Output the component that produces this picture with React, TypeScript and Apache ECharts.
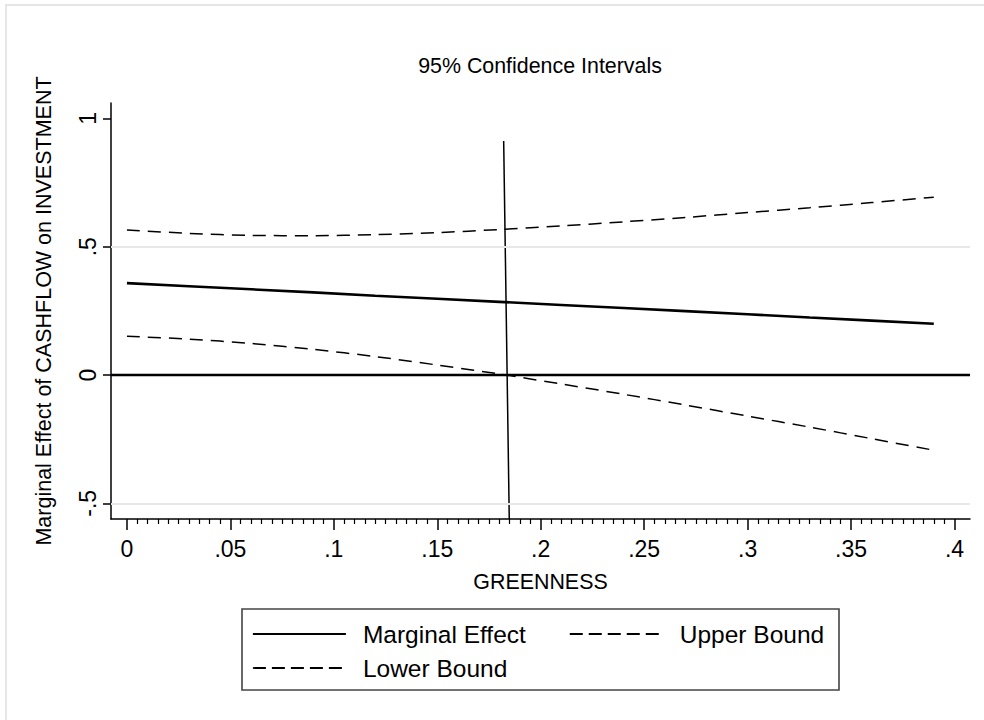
import React, { useEffect, useRef } from "react";
import * as echarts from "echarts";

const greenness = [0, 0.03, 0.06, 0.09, 0.12, 0.15, 0.18, 0.21, 0.24, 0.27, 0.3, 0.33, 0.36, 0.39];
const marginalEffect = [0.358, 0.346, 0.334, 0.322, 0.309, 0.297, 0.285, 0.273, 0.261, 0.249, 0.237, 0.224, 0.212, 0.2];
const upperBound = [0.565, 0.552, 0.544, 0.543, 0.547, 0.555, 0.567, 0.581, 0.597, 0.614, 0.633, 0.652, 0.672, 0.693];
const lowerBound = [0.151, 0.14, 0.123, 0.1, 0.072, 0.039, 0.004, -0.035, -0.075, -0.117, -0.16, -0.203, -0.248, -0.293];
const cutoffX = [0.1821, 0.1848];
const cutoffY = [0.912, -0.561];

const xMajorTicks = [0, 0.05, 0.1, 0.15, 0.2, 0.25, 0.3, 0.35, 0.4];
const xTickLabels = ["0", ".05", ".1", ".15", ".2", ".25", ".3", ".35", ".4"];
const yMajorTicks = [-0.5, 0, 0.5, 1];
const yTickLabels = ["-.5", "0", ".5", "1"];
const yGridLines = [-0.5, 0.5];

const FONT = "'Liberation Sans', Arial, Helvetica, sans-serif";

export default function App() {
  const ref = useRef<HTMLDivElement>(null);
  useEffect(() => {
    if (!ref.current) return;
    const chart = echarts.init(ref.current, undefined, { renderer: "svg" });
    const xMin = -0.0077;
    const xMax = 0.4075;
    const minor: number[] = [];
    for (let i = 0; i <= 80; i++) {
      if (i % 10 !== 0) minor.push(+(i * 0.005).toFixed(4));
    }
    const xLab = (v: number) => {
      const idx = xMajorTicks.findIndex((t) => Math.abs(t - v) < 1e-9);
      return idx >= 0 ? xTickLabels[idx] : "";
    };
    const yLab = (v: number) => {
      const idx = yMajorTicks.findIndex((t) => Math.abs(t - v) < 1e-9);
      return idx >= 0 ? yTickLabels[idx] : "";
    };
    const dash = [13, 8];
    const legendText = { fontSize: 24.5, color: "#000", fontFamily: FONT, padding: [0, 0, 0, 12], lineHeight: 28 };
    const legendLine = { width: 1.8, type: [13, 6], color: "#000" };
    chart.setOption({
      animation: false,
      backgroundColor: "#ffffff",
      textStyle: { fontFamily: FONT },
      grid: { left: 111, right: 14, top: 103, bottom: 201, containLabel: false },
      graphic: [
        {
          type: "rect",
          shape: { x: 6, y: 5, width: 1100, height: 1000 },
          style: { fill: "none", stroke: "#e6e6e6", lineWidth: 2 },
          silent: true,
          z: -10,
        },
        {
          type: "text",
          x: 540,
          y: 66,
          style: {
            text: "95% Confidence Intervals",
            fill: "#000",
            font: `21.4px ${FONT}`,
            align: "center",
            verticalAlign: "middle",
          },
        },
        {
          type: "rect",
          shape: { x: 242, y: 609, width: 597, height: 81 },
          style: { fill: "none", stroke: "#444", lineWidth: 1.6 },
          silent: true,
        },
      ],
      legend: [
        {
          data: [
            { name: "Marginal Effect", lineStyle: { width: 1.8, type: "solid", color: "#000" } },
            { name: "Upper Bound", lineStyle: legendLine },
          ],
          left: 252,
          top: 620,
          orient: "horizontal",
          itemWidth: 93,
          itemHeight: 14,
          itemGap: 43,
          padding: 0,
          selectedMode: false,
          itemStyle: { opacity: 0 },
          textStyle: legendText,
        },
        {
          data: [{ name: "Lower Bound", lineStyle: legendLine }],
          left: 252,
          top: 654,
          orient: "horizontal",
          itemWidth: 93,
          itemHeight: 14,
          padding: 0,
          selectedMode: false,
          itemStyle: { opacity: 0 },
          textStyle: legendText,
        },
      ],
      xAxis: [
        {
          type: "value",
          min: xMin,
          max: xMax,
          name: "GREENNESS",
          nameLocation: "middle",
          nameGap: 52,
          nameTextStyle: { fontSize: 21.4, color: "#000", fontFamily: FONT },
          axisLine: { show: true, onZero: false, lineStyle: { color: "#000", width: 1.5 } },
          axisTick: { show: true, customValues: xMajorTicks, length: 11, lineStyle: { color: "#000", width: 1.5 } },
          axisLabel: { show: true, customValues: xMajorTicks, formatter: xLab, fontSize: 23, color: "#000", margin: 18, fontFamily: FONT },
          splitLine: { show: false },
        },
        {
          type: "value",
          min: xMin,
          max: xMax,
          position: "bottom",
          axisLine: { show: false, onZero: false },
          axisTick: { show: true, customValues: minor, length: 5, lineStyle: { color: "#000", width: 1.2 } },
          axisLabel: { show: false },
          splitLine: { show: false },
        },
      ],
      yAxis: {
        type: "value",
        min: -0.561,
        max: 1.06,
        name: "Marginal Effect of CASHFLOW on INVESTMENT",
        nameLocation: "middle",
        nameRotate: 90,
        nameGap: 56,
        nameTextStyle: { fontSize: 21.5, color: "#000", fontFamily: FONT },
        axisLine: { show: true, onZero: false, lineStyle: { color: "#000", width: 1.5 } },
        axisTick: { show: true, customValues: yMajorTicks, length: 8, lineStyle: { color: "#000", width: 1.5 } },
        axisLabel: { show: true, customValues: yMajorTicks, formatter: yLab, rotate: 90, fontSize: 23, color: "#000", margin: 12, fontFamily: FONT },
        splitLine: { show: false },
      },
      series: [
        {
          name: "refs",
          type: "line",
          data: [],
          silent: true,
          markLine: {
            silent: true,
            symbol: "none",
            label: { show: false },
            animation: false,
            data: [
              ...yGridLines.map((v) => ({ yAxis: v, lineStyle: { color: "#e8e8e8", width: 2, type: "solid" } })),
              { yAxis: 0, lineStyle: { color: "#000", width: 2.4, type: "solid" } },
            ],
          },
          z: 1,
        },
        {
          name: "Marginal Effect",
          type: "line",
          data: greenness.map((g, i) => [g, marginalEffect[i]]),
          symbol: "none",
          lineStyle: { color: "#000", width: 2.6, type: "solid" },
          itemStyle: { color: "#000" },
          z: 3,
        },
        {
          name: "Upper Bound",
          type: "line",
          data: greenness.map((g, i) => [g, upperBound[i]]),
          symbol: "none",
          smooth: 0.3,
          lineStyle: { color: "#000", width: 1.5, type: dash },
          itemStyle: { color: "#000" },
          z: 3,
        },
        {
          name: "Lower Bound",
          type: "line",
          data: greenness.map((g, i) => [g, lowerBound[i]]),
          symbol: "none",
          smooth: 0.3,
          lineStyle: { color: "#000", width: 1.5, type: dash },
          itemStyle: { color: "#000" },
          z: 3,
        },
        {
          name: "cutoff",
          type: "line",
          data: cutoffX.map((x, i) => [x, cutoffY[i]]),
          symbol: "none",
          lineStyle: { color: "#000", width: 1.5 },
          z: 4,
        },
      ],
    });
    return () => chart.dispose();
  }, []);
  return <div ref={ref} style={{ position: "fixed", left: 0, top: 0, width: 984, height: 720, background: "#fff" }} />;
}
